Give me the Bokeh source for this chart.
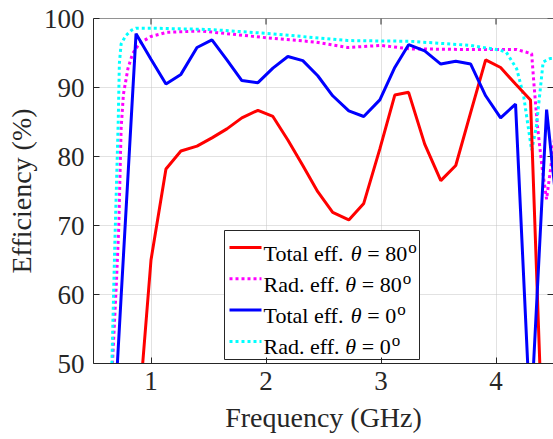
from bokeh.plotting import figure
from bokeh.models import FixedTicker, Label, Range1d, Span
from bokeh.embed import file_html
from bokeh.resources import INLINE

# ---------------- data ----------------
freq_total_80 = [0.87, 1.00, 1.13, 1.26, 1.40, 1.53, 1.66, 1.79, 1.93, 2.06, 2.19, 2.32, 2.45,
                 2.58, 2.72, 2.85, 2.99, 3.12, 3.24, 3.38, 3.52, 3.65, 3.78, 3.91, 4.04, 4.17,
                 4.30, 4.44]
total_80 = [38.0, 65.0, 78.2, 80.8, 81.5, 82.7, 84.0, 85.6, 86.7, 85.8, 82.4, 78.7, 74.9,
            71.9, 70.8, 73.2, 81.1, 88.9, 89.3, 81.8, 76.5, 78.7, 86.4, 94.0, 92.9, 90.5,
            88.2, 22.0]

freq_total_0 = [0.61, 0.74, 0.87, 1.00, 1.13, 1.26, 1.40, 1.53, 1.66, 1.79, 1.93, 2.06, 2.19,
                2.32, 2.45, 2.58, 2.72, 2.85, 2.99, 3.12, 3.24, 3.38, 3.52, 3.65, 3.78, 3.91,
                4.04, 4.17, 4.30, 4.44, 4.57]
total_0 = [21.0, 59.6, 97.8, 94.1, 90.5, 91.9, 95.8, 96.9, 94.0, 91.0, 90.7, 92.8, 94.5,
           93.9, 91.7, 88.8, 86.6, 85.8, 88.2, 92.9, 96.2, 95.3, 93.4, 93.8, 93.4, 88.8,
           85.6, 87.6, 41.3, 86.8, 66.0]

freq_rad_80 = [0.60, 0.665, 0.70, 0.72, 0.74, 0.76, 0.80, 0.84, 0.90, 1.00, 1.14, 1.43, 1.55,
               2.01, 2.42, 2.71, 3.00, 3.25, 3.78, 4.18, 4.31, 4.33, 4.36, 4.40, 4.44, 4.48,
               4.52]
rad_80 = [30.0, 50.0, 62.0, 70.0, 84.0, 89.0, 92.8, 94.9, 96.4, 97.4, 98.0, 98.2, 98.0,
          97.2, 96.6, 95.8, 96.1, 95.6, 95.5, 95.5, 94.9, 90.5, 84.5, 78.5, 73.8, 78.9,
          84.0]

freq_rad_0 = [0.60, 0.66, 0.685, 0.715, 0.725, 0.74, 0.78, 0.83, 0.87, 1.00, 1.52, 2.04, 2.71,
              3.25, 3.78, 4.04, 4.09, 4.18, 4.24, 4.31, 4.35, 4.41, 4.47, 4.52]
rad_0 = [30.0, 50.0, 67.0, 85.0, 93.5, 96.3, 97.5, 98.3, 98.6, 98.6, 98.4, 97.8, 96.8,
         96.7, 96.1, 95.4, 95.1, 92.7, 88.8, 80.9, 84.2, 93.7, 94.2, 94.2]

x_ticks = [1, 2, 3, 4]
y_ticks = [50, 60, 70, 80, 90, 100]
x_label = "Frequency (GHz)"
y_label = "Efficiency (%)"

# legend rows: (text before theta, value after "=")
legend_rows = [("Total eff.", "80"), ("Rad. eff.", "80"), ("Total eff.", "0"), ("Rad. eff.", "0")]

# ---------------- styling ----------------
RED, MAG, BLUE, CYAN = "#ff0000", "#ff00ff", "#0000ff", "#00ffff"
AX = "#262626"
FONT = "Liberation Serif"
X0, X1, Y0, Y1 = 0.5, 4.5, 50, 100

W, H = 553, 439
ML, MT, MB = 93, 18, 76
FW, FH = W - ML, H - MT - MB

p = figure(width=W, height=H, output_backend="svg", toolbar_location=None,
           x_range=Range1d(X0, X1), y_range=Range1d(Y0, Y1),
           min_border_left=ML, min_border_right=0, min_border_top=MT, min_border_bottom=MB,
           background_fill_color="white", border_fill_color="white")
p.outline_line_color = None

for ax in (p.xaxis[0], p.yaxis[0]):
    ax.axis_line_color = AX
    ax.axis_line_width = 1
    ax.major_tick_line_color = AX
    ax.major_tick_in = 6
    ax.major_tick_out = 0
    ax.minor_tick_line_color = None
    ax.major_label_text_font = FONT
    ax.major_label_text_font_size = "27px"
    ax.major_label_text_color = AX
    ax.axis_label_text_font = FONT
    ax.axis_label_text_font_size = "28px"
    ax.axis_label_text_font_style = "normal"
    ax.axis_label_text_color = AX

p.xaxis[0].ticker = FixedTicker(ticks=x_ticks)
p.yaxis[0].ticker = FixedTicker(ticks=y_ticks)
p.xaxis[0].axis_label = x_label
p.yaxis[0].axis_label = y_label
p.xaxis[0].major_label_standoff = 8
p.xaxis[0].axis_label_standoff = 9
p.yaxis[0].major_label_standoff = 9
p.yaxis[0].axis_label_standoff = 4

p.xgrid.ticker = FixedTicker(ticks=x_ticks)
p.ygrid.ticker = FixedTicker(ticks=y_ticks[1:-1])
for g in (p.xgrid, p.ygrid):
    g.grid_line_color = "#c4c4c4"
    g.grid_line_dash = "1 1"
    g.grid_line_width = 1

# top border and inward ticks on top/right (the right border itself is cut off)
p.add_layout(Span(location=Y1, dimension="width", line_color=AX, line_width=1))
TICK = 6
tx = (X1 - X0) * TICK / FW
ty = (Y1 - Y0) * TICK / FH
p.segment(x0=x_ticks, x1=x_ticks, y0=[Y1] * len(x_ticks), y1=[Y1 - ty] * len(x_ticks),
          line_color=AX, line_width=1)
p.segment(x0=[X1] * len(y_ticks), x1=[X1 - tx] * len(y_ticks), y0=y_ticks, y1=y_ticks,
          line_color=AX, line_width=1)

# ---------------- curves ----------------
p.line(freq_rad_80, rad_80, line_color=MAG, line_width=3, line_dash="3 3")
p.line(freq_rad_0, rad_0, line_color=CYAN, line_width=3, line_dash="3 3")
p.line(freq_total_80, total_80, line_color=RED, line_width=3)
p.line(freq_total_0, total_0, line_color=BLUE, line_width=3)

# ---------------- custom legend ----------------
FL, FT = ML, MT  # frame origin in canvas pixels

def dx(px):
    return X0 + (px - FL) / FW * (X1 - X0)

def dy(py):
    return Y1 - (py - FT) / FH * (Y1 - Y0)

p.quad(left=dx(224), right=dx(419), top=dy(230), bottom=dy(359),
       fill_color="white", line_color=AX, line_width=1)

styles = [(RED, None), (MAG, "3 3"), (BLUE, None), (CYAN, "3 3")]
widths = {"T": .611, "o": .5, "t": .278, "a": .444, "l": .278, " ": .25, "e": .444,
          "f": .333, ".": .25, "R": .667, "d": .5, "=": .564, "0": .5, "8": .5}

def tw(s, size):
    return sum(widths[c] for c in s) * size

LS = 22
for i, ((head, val), (col, dash)) in enumerate(zip(legend_rows, styles)):
    ly = 247.0 + 31.3 * i
    base = ly + 5.5
    kw = dict(line_color=col, line_width=3)
    if dash:
        kw["line_dash"] = dash
    p.line([dx(229), dx(261)], [dy(ly), dy(ly)], **kw)
    x0 = dx(263)
    y0 = dy(base)
    off_theta = tw(head, LS) + tw(" ", LS)
    off_eq = off_theta + 0.5 * LS + tw(" ", LS)
    tail = "= " + val
    off_sup = off_eq + tw(tail, LS) + 1
    common = dict(x=x0, y=y0, text_font=FONT, text_font_size=f"{LS}px",
                  text_color="black", text_baseline="alphabetic", text_align="left")
    p.add_layout(Label(text=head, x_offset=0, **common))
    p.add_layout(Label(text="θ", x_offset=off_theta, text_font_style="italic", **common))
    p.add_layout(Label(text=tail, x_offset=off_eq, **common))
    sup = dict(common)
    sup["text_font_size"] = "17px"
    p.add_layout(Label(text="o", x_offset=off_sup, y_offset=6, **sup))

open("out.html", "w").write(file_html(p, INLINE))
